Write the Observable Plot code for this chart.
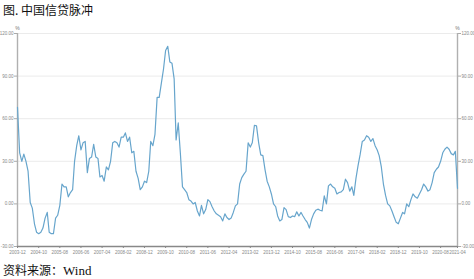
<!DOCTYPE html>
<html>
<head>
<meta charset="utf-8">
<script src="https://cdn.jsdelivr.net/npm/d3@7"></script>
<script src="https://cdn.jsdelivr.net/npm/@observablehq/plot@0.6"></script>
<style>
  html, body { margin: 0; padding: 0; background: #fff; width: 474px; height: 279px; overflow: hidden; }
  #title { font-family: "Noto Sans CJK SC", sans-serif; font-size: 12px; line-height: 18px; height: 20px; padding-left: 3px; padding-top: 1px; box-sizing: border-box; color: #111; }
  #chart { height: 240px; }
  #caption { font-family: "Noto Sans CJK SC", "Liberation Serif", serif; font-size: 12px; line-height: 16px; padding-left: 3px; padding-top: 2px; color: #111; }
  #caption .en { font-family: "Liberation Serif", serif; font-size: 13px; }
</style>
</head>
<body>
<div id="title">图. 中国信贷脉冲</div>
<div id="chart"></div>
<div id="caption">资料来源：<span class="en">Wind</span></div>
<script>
const startMonth = "2003-12";
const creditImpulse = [
  68, 36, 30, 35, 30, 23, 1, -3, -14, -20,
  -21, -20, -17, -10, -6, -20, -21, -21, -10, -8,
  -1, 14, 12, 12, 5, 8, 10, 30, 41, 48,
  38, 43, 44, 22, 32, 33, 42, 33, 32, 19,
  20, 16, 26, 24, 30, 43, 44, 43, 40, 47,
  47, 50, 44, 47, 36, 37, 23, 18, 10, 12,
  16, 15, 23, 44, 41, 49, 75, 75, 85, 95,
  108, 111, 100, 99, 88, 45, 57, 36, 12, 10,
  8, 3, 2, 0, 1, -5, -8.5, -1, -7, -4,
  3, 1.6, -2, -5, -7, -8, -9, -12, -7, -9.6,
  -11, -10, -6, -1.4, 0, 14, 18.5, 21, 23, 43,
  40, 43, 55.4, 55, 43, 34.5, 34, 24, 16, 12,
  7, 0, -2, -8.5, -12, -11, -2.6, -4, -9, -9.6,
  -8.5, -9, -5.6, -8.5, -6, -8.5, -11, -13, -17, -11,
  -7, -4.5, -3.7, -4.5, -5, 5.6, 0, 12.7, 14, 12,
  11, 7, 8, 8.5, 10, 17.4, 15, 9, 12, 6,
  18, 27, 35, 44, 45, 48, 47, 44, 46, 41,
  38, 34, 26, 14, 6, 0, -1.4, -5, -9, -13,
  -14, -10, -6, -7, 0, -2, 3, 7, 5, 4,
  7, 10, 14, 12, 9, 10, 15, 22, 24.4, 26,
  30, 36, 38.5, 40, 38.5, 35.4, 34.5, 37, 11
];
const xTickLabels = ["2003-12","2004-10","2005-08","2006-06","2007-04","2008-02","2008-12","2009-10","2010-08","2011-06","2012-04","2013-02","2013-12","2014-10","2015-08","2016-06","2017-04","2018-02","2018-12","2019-10","2020-08","2021-04"];
const yTicks = [-30, 0, 30, 60, 90, 120];

const parse = d3.utcParse("%Y-%m");
const t0 = parse(startMonth);
const data = creditImpulse.map((v, i) => ({date: d3.utcMonth.offset(t0, i), value: v}));
const first = data[0].date, last = data[data.length - 1].date;
const xTicks = xTickLabels.map(parse);

const axisFont = "Liberation Sans, Arial, sans-serif";
const chart = Plot.plot({
  width: 474,
  height: 240,
  marginLeft: 17,
  marginRight: 17,
  marginTop: 13,
  marginBottom: 14,
  style: {fontFamily: axisFont, background: "#fff", overflow: "visible"},
  x: {type: "utc", domain: [first, last]},
  y: {domain: [-30, 120]},
  marks: [
    Plot.gridY(yTicks.filter(d => d > -30), {stroke: "#ebebeb", strokeOpacity: 1, strokeWidth: 1}),
    Plot.axisY(yTicks, {anchor: "left", tickFormat: d => d.toFixed(2), fontSize: 4.5, tickSize: 3, tickPadding: 1, stroke: "#aaa", fill: "#888", label: null}),
    Plot.axisY(yTicks, {anchor: "right", tickFormat: d => d.toFixed(2), fontSize: 4.5, tickSize: 3, tickPadding: 1, stroke: "#aaa", fill: "#888", label: null}),
    Plot.axisX(xTicks, {tickFormat: d3.utcFormat("%Y-%m"), fontSize: 4.5, tickSize: 2, tickPadding: 2, stroke: "#888", fill: "#888", label: null}),
    Plot.ruleX([first, last], {y1: -30, y2: 120, stroke: "#b0b0b0", strokeWidth: 1.4}),
    Plot.ruleY([-30], {stroke: "#888", strokeWidth: 1.4}),
    Plot.text(["%"], {frameAnchor: "top-left", dy: -7, fontSize: 5, fill: "#777", textAnchor: "middle"}),
    Plot.text(["%"], {frameAnchor: "top-right", dy: -7, fontSize: 5, fill: "#777", textAnchor: "middle"}),
    Plot.lineY(data, {x: "date", y: "value", stroke: "#67a5cc", strokeWidth: 1.2, curve: "linear"})
  ]
});
document.getElementById("chart").appendChild(chart);
</script>
</body>
</html>
